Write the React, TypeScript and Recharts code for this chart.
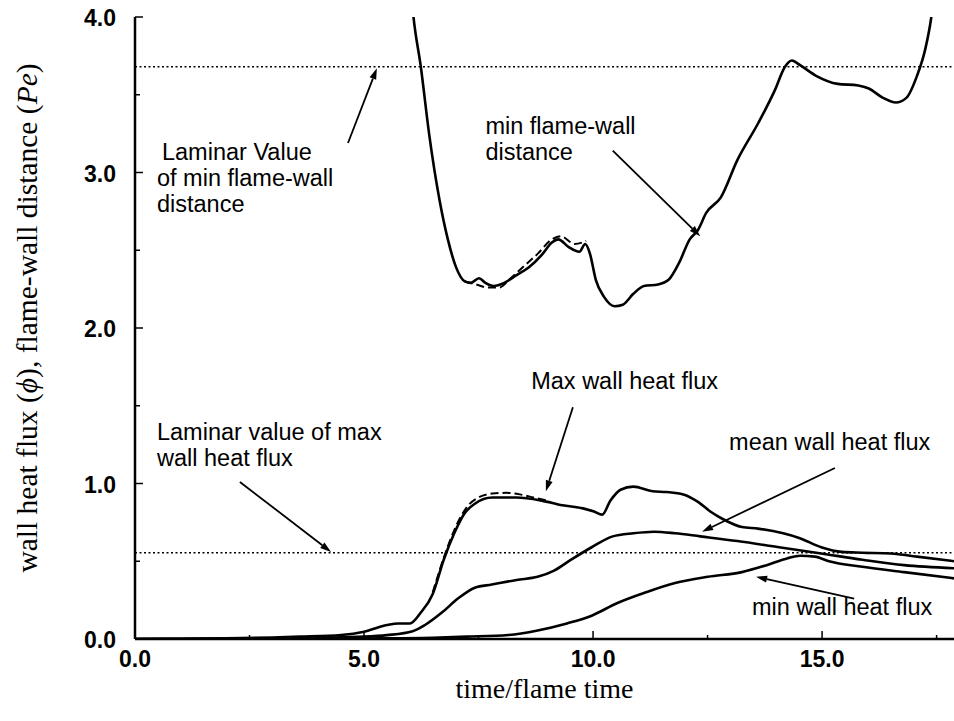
import React from 'react';
import { LineChart, Line, XAxis, YAxis, ReferenceLine, ReferenceDot } from 'recharts';

// ---- axis ticks ----
const xTicks = [0, 2.5, 5, 7.5, 10, 12.5, 15, 17.5];
const yTicks = [0, 0.5, 1, 1.5, 2, 2.5, 3, 3.5, 4];
const xDomain = [0, 17.88];
const yDomain = [0, 4];

// ---- laminar reference values ----
const laminarMinDistance = 3.68;
const laminarMaxFlux = 0.555;

// ---- min flame-wall distance (solid) ----
const distX = [5.85, 6.08, 6.24, 6.42, 6.65, 6.83, 7.01, 7.2, 7.33, 7.51, 7.65, 7.83, 8.06, 8.33, 8.6, 8.88, 9.1, 9.24, 9.47, 9.7, 9.83, 9.93, 10.06, 10.24, 10.47, 10.65, 10.88, 11.11, 11.42, 11.65, 11.88, 12.11, 12.29, 12.47, 12.79, 13.15, 13.61, 13.97, 14.19, 14.34, 14.52, 14.88, 15.34, 15.79, 16.02, 16.33, 16.61, 16.84, 17.07, 17.25, 17.38, 17.5];
const distY = [4.9, 4.0, 3.68, 3.25, 2.82, 2.57, 2.39, 2.3, 2.29, 2.32, 2.29, 2.27, 2.29, 2.34, 2.39, 2.47, 2.55, 2.57, 2.52, 2.49, 2.54, 2.48, 2.31, 2.2, 2.14, 2.15, 2.22, 2.27, 2.28, 2.31, 2.42, 2.57, 2.63, 2.74, 2.84, 3.08, 3.32, 3.53, 3.68, 3.72, 3.69, 3.62, 3.57, 3.56, 3.54, 3.48, 3.45, 3.48, 3.62, 3.79, 3.99, 4.3];

// ---- min flame-wall distance (dashed, second run) ----
const distDashX = [7.2, 7.45, 7.7, 7.95, 8.2, 8.5, 8.8, 9.1, 9.3, 9.6, 9.85];
const distDashY = [2.3, 2.28, 2.26, 2.26, 2.32, 2.4, 2.48, 2.57, 2.59, 2.54, 2.56];

// ---- max wall heat flux (solid) ----
const maxFluxX = [0, 1, 2, 3, 3.6, 4.5, 5.0, 5.5, 5.75, 6.0, 6.24, 6.5, 6.74, 6.97, 7.2, 7.42, 7.8, 8.33, 8.88, 9.33, 9.78, 10.02, 10.2, 10.38, 10.6, 10.88, 11.3, 11.6, 11.97, 12.3, 12.56, 12.84, 13.25, 13.6, 14.15, 14.5, 14.98, 15.43, 15.88, 16.5, 17.07, 17.88];
const maxFluxY = [0, 0.002, 0.005, 0.01, 0.015, 0.026, 0.047, 0.09, 0.1, 0.1, 0.17, 0.29, 0.51, 0.68, 0.81, 0.87, 0.91, 0.91, 0.89, 0.86, 0.84, 0.82, 0.8, 0.89, 0.96, 0.98, 0.95, 0.945, 0.93, 0.88, 0.82, 0.77, 0.72, 0.71, 0.68, 0.65, 0.59, 0.56, 0.555, 0.55, 0.53, 0.5];

// ---- max wall heat flux (dashed, second run) ----
const maxDashX = [6.5, 6.75, 7.0, 7.25, 7.5, 7.8, 8.1, 8.4, 8.7, 9.0];
const maxDashY = [0.3, 0.53, 0.72, 0.85, 0.91, 0.935, 0.94, 0.93, 0.91, 0.89];

// ---- mean wall heat flux ----
const meanFluxX = [0, 2, 4, 5, 5.5, 6.06, 6.33, 6.7, 7.05, 7.42, 7.79, 8.33, 8.79, 9.15, 9.52, 9.97, 10.43, 10.88, 11.33, 11.79, 12.34, 13.15, 14.06, 14.98, 15.88, 16.79, 17.88];
const meanFluxY = [0, 0.002, 0.008, 0.015, 0.025, 0.05, 0.09, 0.17, 0.26, 0.33, 0.35, 0.38, 0.4, 0.44, 0.51, 0.59, 0.66, 0.68, 0.69, 0.68, 0.66, 0.63, 0.59, 0.55, 0.51, 0.475, 0.455];

// ---- min wall heat flux ----
const minFluxX = [0, 3, 5, 6.5, 7.24, 8.15, 8.79, 9.43, 9.97, 10.52, 11.15, 11.79, 12.51, 13.25, 13.79, 14.25, 14.52, 14.84, 15.15, 15.88, 16.79, 17.88];
const minFluxY = [0, 0, 0.003, 0.008, 0.015, 0.026, 0.055, 0.1, 0.15, 0.23, 0.3, 0.36, 0.4, 0.43, 0.475, 0.52, 0.535, 0.53, 0.5, 0.465, 0.43, 0.39];

// ---- annotations (data coordinates) ----
const noteTexts = [
  ['Laminar Value', 'of min flame-wall', 'distance'],
  ['min flame-wall', 'distance'],
  ['Max wall heat flux'],
  ['Laminar value of max', 'wall heat flux'],
  ['mean wall heat flux'],
  ['min wall heat flux'],
];
const noteX = [0.48, 7.65, 8.65, 0.48, 12.97, 13.47];
const noteY = [3.08, 3.25, 1.61, 1.28, 1.215, 0.154];
const noteIndent = [5, 0, 0, 0, 0, 0];

const arrowFromX = [4.65, 10.43, 9.56, 2.29, 15.28, 15.7];
const arrowFromY = [3.19, 3.14, 1.49, 1.01, 1.1, 0.26];
const arrowToX = [5.28, 12.34, 8.97, 4.28, 12.38, 13.56];
const arrowToY = [3.67, 2.59, 0.95, 0.56, 0.69, 0.4];

const zip = (xs: number[], ys: number[]) => xs.map((x, i) => ({ x, y: ys[i] }));

const sansFont = '"Liberation Sans", Arial, Helvetica, sans-serif';
const serifFont = '"Liberation Serif", "DejaVu Serif", serif';

const BottomTick = (props: any) => {
  const { x, y, payload } = props;
  const v = payload.value;
  const major = Math.abs(v % 5) < 1e-6;
  return (
    <g>
      <line x1={x} y1={y} x2={x} y2={y - (major ? 8 : 4)} stroke="#000" strokeWidth={1.5} />
      {major && (
        <text x={x} y={y + 28} textAnchor="middle" fontFamily={sansFont} fontWeight="bold" fontSize={23} fill="#000">
          {v.toFixed(1)}
        </text>
      )}
    </g>
  );
};

const TopTick = (props: any) => {
  const { x, y, payload } = props;
  const v = payload.value;
  const major = Math.abs(v % 5) < 1e-6;
  return <line x1={x} y1={y} x2={x} y2={y + (major ? 8 : 4)} stroke="#000" strokeWidth={1.5} />;
};

const LeftTick = (props: any) => {
  const { x, y, payload } = props;
  const v = payload.value;
  const major = Math.abs(v % 1) < 1e-6;
  return (
    <g>
      <line x1={x} y1={y} x2={x + (major ? 8 : 5)} y2={y} stroke="#000" strokeWidth={1.5} />
      {major && (
        <text x={x - 19} y={y + 9} textAnchor="end" fontFamily={sansFont} fontWeight="bold" fontSize={23} fill="#000">
          {v.toFixed(1)}
        </text>
      )}
    </g>
  );
};

const ArrowShape = (props: any) => {
  const { x1, y1, x2, y2 } = props;
  const ang = Math.atan2(y2 - y1, x2 - x1);
  const L = 11;
  const W = 3.5;
  const bx = x2 - L * Math.cos(ang);
  const by = y2 - L * Math.sin(ang);
  const px = -Math.sin(ang) * W;
  const py = Math.cos(ang) * W;
  return (
    <g>
      <line x1={x1} y1={y1} x2={bx} y2={by} stroke="#000" strokeWidth={1.8} />
      <polygon points={`${x2},${y2} ${bx + px},${by + py} ${bx - px},${by - py}`} fill="#000" />
    </g>
  );
};

const makeNote = (lines: string[], indent: number) => (props: any) => {
  const { cx, cy } = props;
  return (
    <text x={cx} y={cy} fontFamily={sansFont} fontSize={23.5} fill="#000">
      {lines.map((ln, i) => (
        <tspan key={i} x={cx + (i === 0 ? indent : 0)} dy={i === 0 ? 0 : 26}>
          {ln}
        </tspan>
      ))}
    </text>
  );
};

const XLabel = (p: any) => {
  const vb = p.viewBox || { x: 135, width: 819 };
  const cx = vb.x + vb.width / 2;
  return (
    <text x={cx} y={698} textAnchor="middle" fontFamily={serifFont} fontSize={28} fill="#000">
      time/flame time
    </text>
  );
};

const YLabel = () => {
  const bx = 37;
  const cy = 318;
  return (
    <text x={bx} y={cy} transform={`rotate(-90 ${bx} ${cy})`} textAnchor="middle" fontFamily={serifFont} fontSize={29.5} fill="#000">
      wall heat flux (<tspan fontStyle="italic">ϕ</tspan>), flame-wall distance (<tspan fontStyle="italic">Pe</tspan>)
    </text>
  );
};

export default function App() {
  const distData = zip(distX, distY);
  const distDashData = zip(distDashX, distDashY);
  const maxData = zip(maxFluxX, maxFluxY);
  const maxDashData = zip(maxDashX, maxDashY);
  const meanData = zip(meanFluxX, meanFluxY);
  const minData = zip(minFluxX, minFluxY);

  return (
    <div style={{ position: 'absolute', left: 0, top: 0, width: 954, height: 721, background: '#fff' }}>
      <LineChart width={954} height={721} margin={{ top: 17, right: 0, bottom: 0, left: 0 }}>
        <XAxis
          xAxisId={0}
          dataKey="x"
          type="number"
          domain={xDomain}
          allowDataOverflow
          ticks={xTicks}
          interval={0}
          height={82}
          tickSize={0}
          tickMargin={0}
          tickLine={false}
          axisLine={{ stroke: '#000', strokeWidth: 2.5 }}
          tick={<BottomTick />}
          label={{ content: XLabel }}
        />
        <XAxis
          xAxisId="top"
          orientation="top"
          dataKey="x"
          type="number"
          domain={xDomain}
          allowDataOverflow
          ticks={xTicks}
          interval={0}
          height={0}
          tickSize={0}
          tickMargin={0}
          tickLine={false}
          axisLine={{ stroke: '#000', strokeWidth: 2 }}
          tick={<TopTick />}
        />
        <YAxis
          type="number"
          domain={yDomain}
          allowDataOverflow
          ticks={yTicks}
          interval={0}
          width={135}
          tickSize={0}
          tickMargin={0}
          tickLine={false}
          axisLine={{ stroke: '#000', strokeWidth: 2.5 }}
          tick={<LeftTick />}
          label={{ content: YLabel }}
        />

        <ReferenceLine y={laminarMinDistance} stroke="#000" strokeWidth={1.5} strokeDasharray="2 2.5" />
        <ReferenceLine y={laminarMaxFlux} stroke="#000" strokeWidth={1.5} strokeDasharray="2 2.5" />

        <Line data={distData} dataKey="y" type="monotone" stroke="#000" strokeWidth={2.6} dot={false} isAnimationActive={false} />
        <Line data={distDashData} dataKey="y" type="monotone" stroke="#000" strokeWidth={2} strokeDasharray="8 4" dot={false} isAnimationActive={false} />
        <Line data={maxData} dataKey="y" type="monotone" stroke="#000" strokeWidth={2.6} dot={false} isAnimationActive={false} />
        <Line data={maxDashData} dataKey="y" type="monotone" stroke="#000" strokeWidth={2} strokeDasharray="8 4" dot={false} isAnimationActive={false} />
        <Line data={meanData} dataKey="y" type="monotone" stroke="#000" strokeWidth={2.6} dot={false} isAnimationActive={false} />
        <Line data={minData} dataKey="y" type="monotone" stroke="#000" strokeWidth={2.6} dot={false} isAnimationActive={false} />

        {arrowFromX.map((fx, i) => (
          <ReferenceLine
            key={`arrow-${i}`}
            segment={[
              { x: fx, y: arrowFromY[i] },
              { x: arrowToX[i], y: arrowToY[i] },
            ]}
            shape={ArrowShape}
            ifOverflow="visible"
          />
        ))}
        {noteTexts.map((lines, i) => (
          <ReferenceDot
            key={`note-${i}`}
            x={noteX[i]}
            y={noteY[i]}
            r={0}
            ifOverflow="visible"
            shape={makeNote(lines, noteIndent[i])}
          />
        ))}
      </LineChart>
    </div>
  );
}
